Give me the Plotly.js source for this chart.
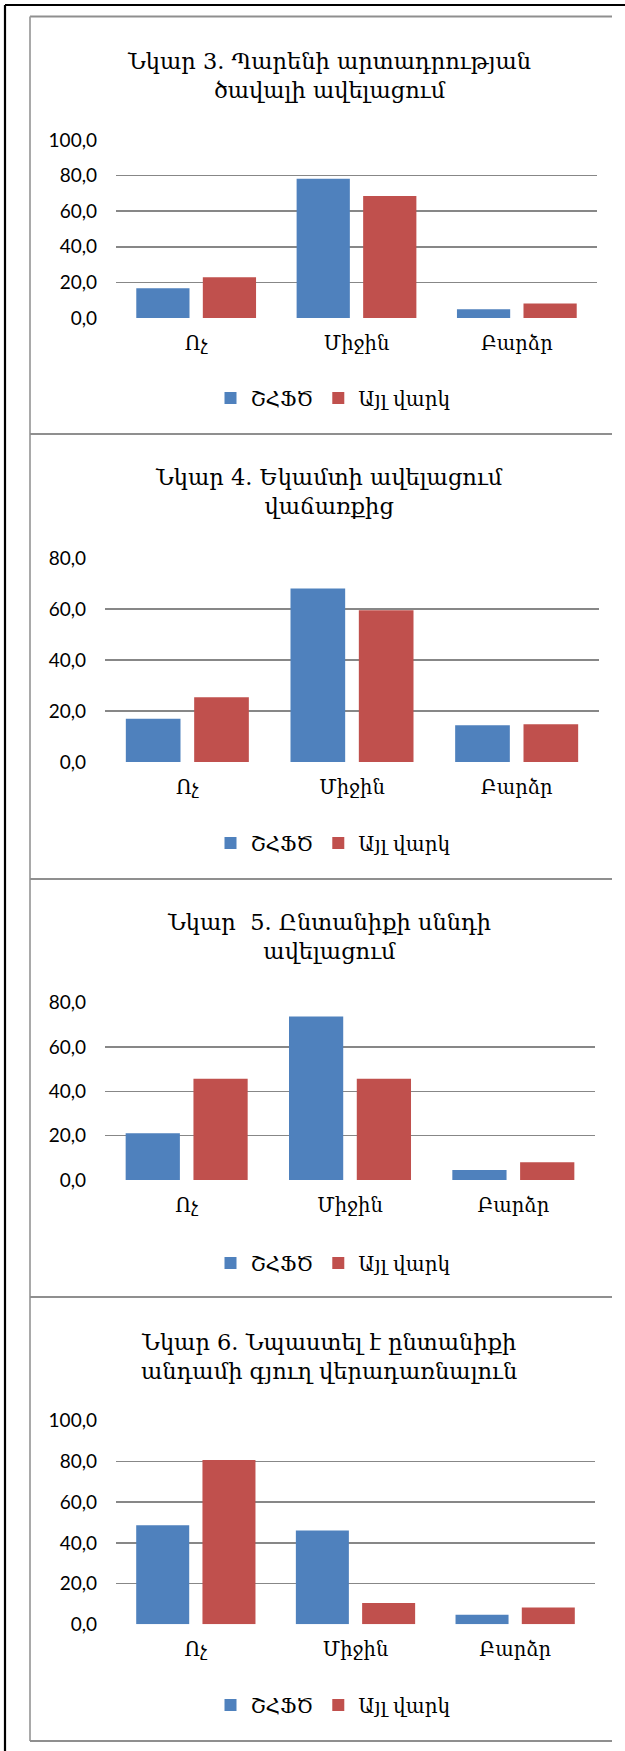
<!DOCTYPE html>
<html>
<head>
<meta charset="utf-8">
<script src="https://cdn.plot.ly/plotly-3.0.1.min.js"></script>
<style>
html,body{margin:0;padding:0;background:#fff;}
#chart{width:625px;height:1751px;}
</style>
</head>
<body>
<div id="chart"></div>
<script>
// ---- data ----
const categories = ["Ոչ", "Միջին", "Բարձր"];
const seriesNames = ["ՇՀՖԾ", "Այլ վարկ"];
const titles = [
  "Նկար 3. Պարենի արտադրության<br>ծավալի ավելացում",
  "Նկար 4. Եկամտի ավելացում<br>վաճառքից",
  "Նկար  5. Ընտանիքի սննդի<br>ավելացում",
  "Նկար 6. Նպաստել է ընտանիքի<br>անդամի գյուղ վերադառնալուն"
];
const chart3_shhfc = [16.7, 78.3, 4.9];
const chart3_other = [22.9, 68.5, 8.2];
const chart4_shhfc = [17.0, 68.1, 14.4];
const chart4_other = [25.4, 59.6, 14.8];
const chart5_shhfc = [21.1, 73.8, 4.5];
const chart5_other = [45.7, 45.7, 8.0];
const chart6_shhfc = [48.6, 46.1, 4.7];
const chart6_other = [80.7, 10.5, 8.3];
const yMax = [100, 80, 80, 100];

// ---- layout geometry (pixels) ----
const W = 625, H = 1751;
const px = v => v / W;
const py = v => 1 - v / H;
const panels = [
  {x0:116, x1:597, y0:140,   y1:318,   title:75,    leg:398},
  {x0:105, x1:599, y0:558.3, y1:762,   title:491.5, leg:843},
  {x0:105, x1:595, y0:1002.7,y1:1180,  title:936.5, leg:1263},
  {x0:116, x1:595, y0:1420.7,y1:1624.3,title:1356,  leg:1705}
];
const blue = "#4F81BD", red = "#C0504D";
const armFont = "'DejaVu Serif', 'DejaVu Sans', serif";
const numFont = "Lato, 'DejaVu Sans', sans-serif";
const dataSets = [
  [chart3_shhfc, chart3_other],
  [chart4_shhfc, chart4_other],
  [chart5_shhfc, chart5_other],
  [chart6_shhfc, chart6_other]
];

const traces = [];
const layout = {
  width: W, height: H,
  margin: {l:0, r:0, t:0, b:0},
  paper_bgcolor: "#ffffff",
  plot_bgcolor: "rgba(0,0,0,0)",
  separators: ",.",
  barmode: "group",
  bargap: 0.17,
  bargroupgap: 0.2,
  showlegend: true,
  annotations: [],
  shapes: []
};

panels.forEach((p, i) => {
  const n = i === 0 ? "" : String(i + 1);
  const legName = "legend" + n;
  const xa = "x" + n, ya = "y" + n;
  [0, 1].forEach(s => {
    traces.push({
      type: "bar",
      x: categories,
      y: dataSets[i][s],
      name: seriesNames[s],
      marker: {color: s === 0 ? blue : red},
      xaxis: xa, yaxis: ya,
      legend: legName,
      hoverinfo: "skip"
    });
  });
  layout["xaxis" + n] = {
    domain: [px(p.x0), px(p.x1)],
    anchor: ya,
    showgrid: false, zeroline: false, showline: false,
    ticks: "", ticklabelstandoff: 11,
    tickfont: {family: armFont, size: 19.5, color: "#000"},
    fixedrange: true
  };
  layout["yaxis" + n] = {
    domain: [py(p.y1), py(p.y0)],
    anchor: xa,
    range: [0, yMax[i]],
    dtick: 20, tick0: 0,
    tickformat: ".1f",
    showgrid: true, gridcolor: "#878787", gridwidth: 1.6,
    zeroline: false, showline: false,
    ticks: "", ticklabelstandoff: 18,
    tickfont: {family: numFont, size: 19, color: "#000"},
    fixedrange: true
  };
  layout[legName] = {
    orientation: "h",
    x: px(333), xanchor: "center",
    y: py(p.leg), yanchor: "middle",
    font: {family: armFont, size: 20, color: "#000"},
    bgcolor: "rgba(0,0,0,0)",
    itemwidth: 30,
    traceorder: "normal"
  };
  layout.annotations.push({
    xref: "paper", yref: "paper",
    x: px(329), y: py(p.title),
    xanchor: "center", yanchor: "middle",
    text: titles[i], showarrow: false,
    font: {family: armFont, size: 22.5, color: "#000"},
    align: "center"
  });
});

// frames
const gray = "#8f8f8f";
const line = (x0, y0, x1, y1, color, w) => ({
  type: "line", xref: "paper", yref: "paper",
  x0: px(x0), y0: py(y0), x1: px(x1), y1: py(y1),
  line: {color: color, width: w}, layer: "above"
});
layout.shapes.push(line(5, 5, 625, 5, "#000", 2.2));
layout.shapes.push(line(5, 5, 5, 1751, "#000", 2.2));
layout.shapes.push(line(30, 16.5, 612, 16.5, gray, 1.8));
layout.shapes.push(line(30, 16.5, 30, 1741, "#a0a0a0", 1.8));
[434, 879, 1297, 1741].forEach(y => layout.shapes.push(line(30, y, 612, y, gray, 1.8)));

Plotly.newPlot("chart", traces, layout, {staticPlot: true, displayModeBar: false});
</script>
</body>
</html>
